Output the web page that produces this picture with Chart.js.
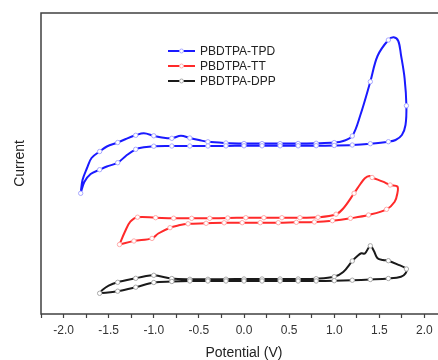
<!DOCTYPE html>
<html><head><meta charset="utf-8">
<script src="https://cdn.jsdelivr.net/npm/chart.js@4.4.1/dist/chart.umd.min.js"></script>
<style>
html,body{margin:0;padding:0;background:#fff;overflow:hidden;width:438px;height:360px}
#wrap{width:452px;height:360px;position:relative}
</style></head>
<body><div id="wrap"><canvas id="c" width="452" height="360"></canvas></div>
<script>
// ---- data ----
const seriesNames = ['PBDTPA-TPD', 'PBDTPA-TT', 'PBDTPA-DPP'];
const xTickLabels = ['-2.0','-1.5','-1.0','-0.5','0.0','0.5','1.0','1.5','2.0'];

// PBDTPA-TPD closed CV loop (potential V, current a.u.)
const tpdV = [-1.81,-1.79,-1.74,-1.69,-1.6,-1.52,-1.4,-1.31,-1.2,-1.11,-1.0,-0.91,-0.8,-0.7,-0.6,-0.5,-0.4,-0.2,0.0,0.2,0.4,0.6,0.8,1.0,1.1,1.2,1.29,1.4,1.48,1.6,1.66,1.71,1.74,1.78,1.8,1.79,1.75,1.68,1.6,1.4,1.2,1.0,0.8,0.6,0.4,0.2,0.0,-0.2,-0.4,-0.6,-0.8,-1.0,-1.11,-1.2,-1.31,-1.4,-1.52,-1.6,-1.7,-1.77,-1.81];
const tpdI = [12.07,13.4,14.6,15.6,16.25,16.75,17.15,17.5,17.87,18.07,17.82,17.65,17.57,17.83,17.6,17.4,17.22,17.1,17.05,17.04,17.04,17.05,17.07,17.14,17.3,17.8,19.9,23.23,25.8,27.4,27.67,27.3,25.9,23.57,20.83,18.9,17.9,17.4,17.23,17.03,16.9,16.85,16.83,16.82,16.82,16.82,16.82,16.81,16.8,16.8,16.8,16.78,16.67,16.47,15.8,15.13,14.75,14.43,14.0,13.2,12.07];
const tpdMarks = [0,4,6,8,10,12,14,16,17,18,19,20,21,22,23,25,27,29,34,38,39,40,41,42,43,44,45,46,47,48,49,50,51,53,55,57];

// PBDTPA-TT
const ttV = [-1.38,-1.32,-1.26,-1.18,-0.98,-0.78,-0.58,-0.38,-0.18,0.02,0.22,0.42,0.62,0.82,1.02,1.1,1.22,1.29,1.34,1.39,1.42,1.54,1.62,1.7,1.7,1.67,1.58,1.38,1.18,0.98,0.78,0.58,0.38,0.18,-0.02,-0.22,-0.42,-0.62,-0.73,-0.82,-0.95,-1.02,-1.22,-1.38];
const ttI = [6.95,8.23,9.23,9.68,9.63,9.58,9.57,9.57,9.6,9.63,9.63,9.63,9.63,9.67,9.98,10.55,12.07,13.0,13.57,13.8,13.65,13.23,12.9,12.75,12.07,11.23,10.47,9.9,9.57,9.33,9.2,9.17,9.13,9.13,9.13,9.12,9.07,9.02,8.85,8.63,8.05,7.56,7.3,6.95];
const ttMarks = [0,3,4,5,6,7,8,9,10,11,12,13,14,16,20,22,26,27,28,29,30,31,32,33,34,35,36,37,39,41,42];

// PBDTPA-DPP
const dppV = [-1.6,-1.57,-1.5,-1.4,-1.2,-1.11,-1.0,-0.8,-0.6,-0.4,-0.2,0.0,0.2,0.4,0.6,0.8,1.0,1.1,1.2,1.26,1.3,1.34,1.4,1.44,1.48,1.54,1.6,1.7,1.8,1.79,1.74,1.6,1.4,1.2,1.0,0.8,0.6,0.4,0.2,0.0,-0.2,-0.4,-0.6,-0.8,-1.0,-1.2,-1.4,-1.6];
const dppI = [2.07,2.4,2.83,3.17,3.57,3.75,3.87,3.55,3.47,3.47,3.48,3.5,3.5,3.5,3.5,3.53,3.73,4.2,5.3,5.83,6.07,6.05,6.82,6.3,5.57,5.4,5.33,4.97,4.5,4.07,3.73,3.55,3.45,3.38,3.33,3.3,3.3,3.3,3.3,3.3,3.3,3.3,3.3,3.25,3.15,2.68,2.28,2.07];
const dppMarks = [0,3,4,6,7,8,9,10,11,12,13,14,15,16,18,22,26,28,31,32,33,34,35,36,37,38,39,40,41,42,43,44,45,46];

// ---- chart ----
const FONT = '"Liberation Sans", Arial, Helvetica, sans-serif';
const pts = (xs, ys) => xs.map((x, i) => ({x, y: ys[i]}));
const lineColors = ['#1a1aff', '#ff2a2a', '#1a1a1a'];
const markColors = ['#a8a8ff', '#ffa8a8', '#a8a8a8'];

function mkDs(i, V, I, marks) {
  return {
    label: seriesNames[i],
    data: pts(V, I),
    borderColor: lineColors[i],
    backgroundColor: lineColors[i],
    borderWidth: 2,
    tension: 0.35,
    fill: false,
    pointRadius: ctx => marks.includes(ctx.dataIndex) ? 2.2 : 0,
    pointBackgroundColor: '#ffffff',
    pointBorderColor: markColors[i],
    pointBorderWidth: 1,
    pointHoverRadius: 0
  };
}

const framePlugin = {
  id: 'frame',
  afterDraw(chart) {
    const {ctx, chartArea: a} = chart;
    ctx.save();
    ctx.strokeStyle = '#404040';
    ctx.lineWidth = 1.5;
    ctx.strokeRect(a.left, a.top, a.right - a.left, a.bottom - a.top);
    ctx.restore();
  }
};

const legendPlugin = {
  id: 'insideLegend',
  afterDraw(chart) {
    const {ctx, chartArea: a} = chart;
    ctx.save();
    chart.data.datasets.forEach((ds, i) => {
      const y = a.top + 38 + i * 15;
      const x0 = a.left + 127, x1 = a.left + 154;
      ctx.strokeStyle = ds.borderColor;
      ctx.lineWidth = 2;
      ctx.beginPath(); ctx.moveTo(x0, y); ctx.lineTo(x1, y); ctx.stroke();
      ctx.beginPath(); ctx.arc((x0 + x1) / 2, y, 2, 0, Math.PI * 2);
      ctx.fillStyle = '#fff'; ctx.fill();
      ctx.strokeStyle = markColors[i]; ctx.lineWidth = 1; ctx.stroke();
      ctx.fillStyle = '#222';
      ctx.font = '12px ' + FONT;
      ctx.textBaseline = 'middle';
      ctx.textAlign = 'left';
      ctx.fillText(ds.label, x1 + 5, y + 0.5);
    });
    ctx.restore();
  }
};

new Chart(document.getElementById('c'), {
  type: 'line',
  data: {
    datasets: [
      mkDs(0, tpdV, tpdI, tpdMarks),
      mkDs(1, ttV, ttI, ttMarks),
      mkDs(2, dppV, dppI, dppMarks)
    ]
  },
  options: {
    responsive: false,
    animation: false,
    events: [],
    layout: {padding: {top: 13, right: 2.7, bottom: 0, left: 0}},
    plugins: {legend: {display: false}, tooltip: {enabled: false}},
    scales: {
      x: {
        type: 'linear',
        min: -2.25, max: 2.25,
        border: {display: false},
        grid: {display: true, drawOnChartArea: false, drawTicks: true, tickLength: 4, tickColor: '#404040', tickWidth: 1.2},
        ticks: {
          stepSize: 0.25, autoSkip: false, maxRotation: 0, padding: 5,
          color: '#333', font: {size: 12, family: FONT},
          callback: v => { const l = xTickLabels.find(s => Math.abs(parseFloat(s) - v) < 1e-6); return l === undefined ? '' : l; }
        },
        title: {display: true, text: 'Potential (V)', color: '#222', font: {size: 14, family: FONT}, padding: {top: 0, bottom: -2}},
        afterFit: s => { s.height = 46; }
      },
      y: {
        type: 'linear',
        min: 0, max: 30.1,
        border: {display: false},
        grid: {display: false},
        ticks: {display: false},
        title: {display: true, text: 'Current', color: '#222', font: {size: 14, family: FONT}, padding: {top: 11.6, bottom: 0}},
        afterFit: s => { s.width = 41; }
      }
    }
  },
  plugins: [framePlugin, legendPlugin]
});
</script>
</body></html>
